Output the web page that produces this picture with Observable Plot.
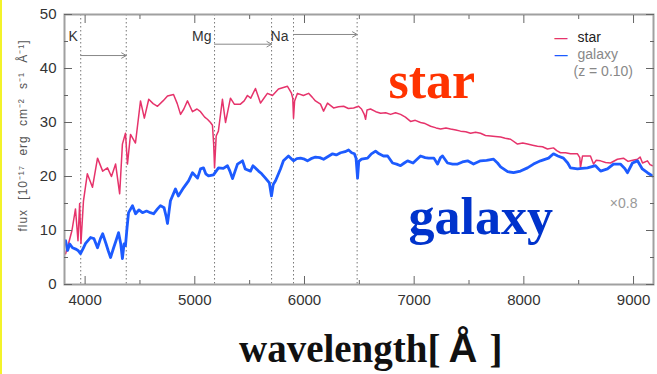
<!DOCTYPE html>
<html><head><meta charset="utf-8">
<script src="https://cdn.jsdelivr.net/npm/d3@7"></script>
<script src="https://cdn.jsdelivr.net/npm/@observablehq/plot@0.6"></script>
<style>
body{margin:0;background:#fff;}
#wrap{position:relative;width:657px;height:374px;overflow:hidden;background:#fff;}
#yellow{position:absolute;left:0;top:0;width:2px;height:374px;background:#f3f32a;}
#xlabel{position:absolute;left:239px;top:329px;font:bold 39px "Liberation Serif","Times New Roman",serif;line-height:39px;white-space:nowrap;color:#111;}
#xlabel .aa{font-family:"Liberation Sans",Arial,sans-serif;font-size:40px;margin:0 12px 0 8px;}
</style></head>
<body><div id="wrap"><div id="chart"></div><div id="xlabel">wavelength[<span class="aa">Å</span>]</div><div id="yellow"></div></div>
<script>
// star spectrum (wavelength Å, flux 1e-17 erg/cm2/s/Å)
const starWave = [3822,3849,3880,3912,3935,3950,3962,3985,4020,4067,4113,4160,4204,4240,4278,4315,4340,4368,4386,4414,4459,4505,4540,4580,4620,4660,4710,4751,4806,4840,4870,4900,4933,4979,5020,5052,5090,5115,5143,5161,5172,5180,5195,5215,5252,5280,5300,5325,5360,5416,5450,5480,5510,5553,5599,5630,5662,5708,5763,5845,5880,5893,5900,5910,5936,5990,6037,6070,6100,6146,6174,6210,6265,6310,6357,6400,6448,6493,6520,6545,6557,6570,6602,6650,6694,6740,6785,6830,6876,6920,6967,7010,7058,7100,7150,7200,7241,7290,7332,7380,7423,7470,7514,7560,7605,7650,7697,7740,7788,7830,7879,7942,7990,8033,8080,8124,8170,8215,8270,8300,8334,8380,8425,8489,8510,8516,8535,8562,8607,8635,8660,8699,8745,8790,8853,8908,8950,8972,9036,9060,9082,9127,9150,9173];
const starFlux = [5.7,7.6,10,14,8.1,15,7.6,15.5,20.5,18,23.4,21,21.6,20,22.3,16.8,26,28,22.3,27.8,26.2,34,30.8,34.3,33.5,33,34,34.9,35.2,33.5,31.5,32.5,34,32,32.5,32,31,30.6,30,29.5,26,21.6,27.5,28.4,34.3,30,32,34.5,33.4,33.4,34,35,34.5,36.3,33.6,34.5,35.4,35,36.2,36.7,35.5,34.5,30.8,34,35.4,35,35.4,34.7,34,33.4,32.1,33.6,32.7,32.9,33,32.6,32.7,33,32.5,31.5,30.6,32.3,32.5,32,31.7,31.8,31.5,31.8,31.5,31,30.2,30.4,30,29.8,29.3,29,28.8,29,28.8,28.6,28.4,28.3,28,28.2,28,27.6,27.5,27.4,27.3,27.1,26.9,26,26.2,26,25.8,25.6,25.5,25.1,25.3,24.8,24.4,24.4,24.2,24.2,23.5,21.6,23.8,23.8,23.8,22.3,23,22.9,22.6,22.5,23.2,23.4,22.8,22.9,23.2,23.6,22.5,22.9,22.2,22];
// galaxy spectrum (z = 0.10, x0.8)
const galaxyWave = [3822,3840,3860,3885,3920,3935,3958,3985,4004,4049,4080,4113,4140,4160,4190,4210,4232,4260,4280,4305,4325,4340,4355,4368,4382,4396,4432,4460,4490,4523,4560,4595,4624,4660,4687,4720,4740,4751,4765,4778,4824,4850,4897,4943,4979,5025,5052,5079,5100,5125,5170,5216,5260,5298,5320,5344,5389,5435,5460,5508,5530,5581,5610,5644,5680,5699,5715,5736,5781,5808,5854,5880,5900,5930,5964,6000,6027,6060,6100,6140,6174,6215,6256,6290,6329,6370,6402,6430,6455,6470,6484,6495,6520,6575,6610,6648,6680,6720,6758,6803,6840,6876,6910,6940,6990,7058,7100,7131,7180,7213,7240,7259,7304,7350,7396,7440,7487,7541,7605,7660,7724,7760,7788,7852,7906,7970,8033,8088,8152,8225,8270,8310,8361,8400,8425,8489,8530,8580,8653,8700,8762,8817,8880,8920,8945,8990,9036,9080,9127,9173];
const galaxyFlux = [8.1,6.3,7.5,6.8,6.5,6.3,5.7,6.8,7.6,8.7,8.5,6.8,8.5,9.4,7.6,6.3,5,6.8,8,9.6,7.5,4.8,7.5,7.2,10.5,13.3,14.6,13.1,13.8,13.3,13.6,13.3,13.1,14,14.6,14.2,12.5,11.3,13.5,15.5,17.7,16.4,17.9,19.2,20.7,19.7,21.4,21.6,20.5,20.1,20.3,21.6,21.5,22,21,19.6,22.3,22.9,21.4,21,22,21,20.5,19.7,18.8,16.4,18.5,19.2,21.4,22.9,23.8,23.3,22.9,23.3,23.4,23.2,22.9,23.3,23.6,23.5,23.2,23.7,24.2,24,24.4,24.6,24.9,24.4,24.2,23.4,19.7,22.8,23.2,23.4,24.2,24.7,24.2,23.8,23.8,22.5,22.3,22,22.5,22.9,22.5,23.8,23.5,23.4,23.4,22.3,23.5,23.8,22.5,22.3,22.3,22.7,22.9,22.3,22.9,23,23.2,22.5,21.8,20.9,20.7,21,21.6,22.3,22.9,23.4,24.2,23.8,23.4,22.5,21.6,21.4,21.5,21.6,22,21,21.4,22.3,22.3,21.5,20.7,22.5,22.9,21.4,20.7,20.1];

// absorption line markers
const markerWave = [3960, 4375, 5180, 5700, 5900, 6480];
const endLabels = ["K", "Mg"];
const endLabelWave = [3960, 5180];
const startLabels = ["Na"];
const startLabelWave = [5700];
const arrowFrom = [3960, 5180, 5900];
const arrowTo = [4375, 5700, 6480];
const arrowFlux = [42.4, 44.5, 46.3];

// axes
const xMajor = [4000, 5000, 6000, 7000, 8000, 9000];
const xMinor = [4500, 5500, 6500, 7500, 8500];
const yMajor = [0, 10, 20, 30, 40, 50];
const yMinor = [5, 15, 25, 35, 45];
const yTitle = "flux [10⁻¹⁷ erg cm⁻² s⁻¹ Å⁻¹]";

const starColor = "#e6336b";
const galaxyColor = "#1d5bff";

const star = starWave.map((w, i) => ({w, f: starFlux[i]}));
const galaxy = galaxyWave.map((w, i) => ({w, f: galaxyFlux[i]}));
const arrows = arrowFrom.map((a, i) => ({a, b: arrowTo[i], y: arrowFlux[i]}));

const sans = '"Liberation Sans", Arial, sans-serif';
const serif = '"Liberation Serif", "Times New Roman", serif';

const chart = Plot.plot({
  width: 657, height: 318,
  marginLeft: 64, marginRight: 4, marginTop: 14, marginBottom: 34,
  style: {fontFamily: sans, fontSize: "15px", color: "#333", background: "transparent", overflow: "visible"},
  x: {domain: [3812, 9182], label: null},
  y: {domain: [0, 50], label: null},
  marks: [
    Plot.ruleX(markerWave, {stroke: "#777", strokeDasharray: "1.5,2.5", strokeWidth: 1}),
    Plot.arrow(arrows, {x1: "a", x2: "b", y1: "y", y2: "y", stroke: "#888", strokeWidth: 1, headLength: 8}),
    Plot.text(endLabels, {x: endLabelWave, frameAnchor: "top", dy: 17, dx: -3, textAnchor: "end", fontSize: 14, fill: "#333"}),
    Plot.text(startLabels, {x: startLabelWave, frameAnchor: "top", dy: 17, dx: -1, textAnchor: "start", fontSize: 14, fill: "#333"}),
    Plot.line(star, {x: "w", y: "f", stroke: starColor, strokeWidth: 1.5, strokeLinejoin: "round"}),
    Plot.line(galaxy, {x: "w", y: "f", stroke: galaxyColor, strokeWidth: 2.8, strokeLinejoin: "round"}),
    Plot.frame({stroke: "#a0a0a0", strokeWidth: 2}),
    Plot.axisX(xMajor, {tickSize: 0, tickPadding: 10, tickFormat: d => String(d), fill: "#333", fontSize: 15}),
    Plot.axisX(xMajor, {tickSize: -8, text: null, stroke: "#666"}),
    Plot.axisX(xMinor, {tickSize: -4, text: null, stroke: "#666"}),
    Plot.axisX(xMajor, {anchor: "top", tickSize: -8, text: null, stroke: "#666"}),
    Plot.axisX(xMinor, {anchor: "top", tickSize: -4, text: null, stroke: "#666"}),
    Plot.axisY(yMajor, {tickSize: 0, tickPadding: 8, tickFormat: d => String(d), fill: "#333", fontSize: 15}),
    Plot.axisY(yMajor, {tickSize: -8, text: null, stroke: "#666"}),
    Plot.axisY(yMinor, {tickSize: -4, text: null, stroke: "#666"}),
    Plot.axisY(yMajor, {anchor: "right", tickSize: -8, text: null, stroke: "#666"}),
    Plot.axisY(yMinor, {anchor: "right", tickSize: -4, text: null, stroke: "#666"}),
    Plot.text([yTitle], {frameAnchor: "left", dx: -41, dy: -14, rotate: -90, textAnchor: "middle", fontSize: 12, fill: "#555"}),
    // legend
    Plot.text(["—"], {frameAnchor: "top-right", dx: -86, dy: 18, fill: starColor, fontSize: 13, fontWeight: "bold"}),
    Plot.text(["star"], {frameAnchor: "top-right", dx: -76, dy: 18, textAnchor: "start", fill: "#222", fontSize: 14}),
    Plot.text(["—"], {frameAnchor: "top-right", dx: -86, dy: 35, fill: galaxyColor, fontSize: 13, fontWeight: "bold"}),
    Plot.text(["galaxy"], {frameAnchor: "top-right", dx: -76, dy: 35, textAnchor: "start", fill: "#888", fontSize: 14}),
    Plot.text(["(z = 0.10)"], {frameAnchor: "top-right", dx: -80, dy: 52, textAnchor: "start", fill: "#888", fontSize: 14}),
    Plot.text(["×0.8"], {frameAnchor: "right", dx: -16, dy: 54, textAnchor: "end", fill: "#999", fontSize: 14}),
    // big annotations
    Plot.text(["star"], {frameAnchor: "top-left", dx: 324, dy: 83, textAnchor: "start", lineAnchor: "bottom", fontSize: 52, fontWeight: "bold", fontFamily: serif, fill: "#ff3300"}),
    Plot.text(["galaxy"], {frameAnchor: "top-left", dx: 344, dy: 219, textAnchor: "start", lineAnchor: "bottom", fontSize: 52, fontWeight: "bold", fontFamily: serif, fill: "#0033cc"})
  ]
});
document.getElementById("chart").appendChild(chart);
// spread the y title along the axis like the reference
for (const t of chart.querySelectorAll("text")) {
  if (t.textContent === yTitle) {
    t.style.wordSpacing = "5px";
    const L = t.getComputedTextLength();
    const ls = Math.max(0, (192 - L) / yTitle.length);
    t.style.letterSpacing = ls + "px";
  }
}
</script>
</body></html>
